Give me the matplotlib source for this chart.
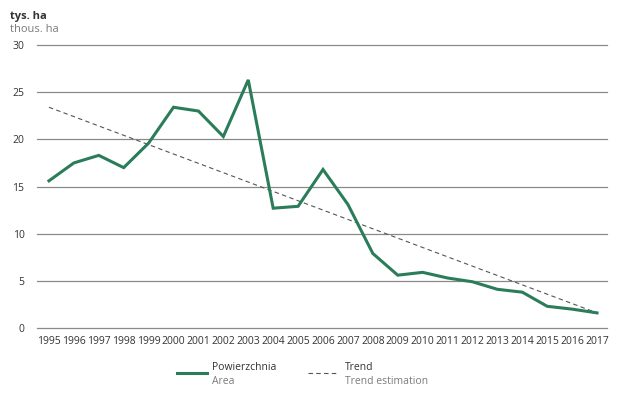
import matplotlib
matplotlib.use("Agg")
import matplotlib.pyplot as plt
from matplotlib.lines import Line2D

plt.rcParams['font.family'] = ['Open Sans', 'DejaVu Sans']

years = list(range(1995, 2018))
area = [15.6, 17.5, 18.3, 17.0, 19.6, 23.4, 23.0, 20.3, 26.3, 12.7, 12.9, 16.8,
        13.1, 7.9, 5.6, 5.9, 5.3, 4.9, 4.1, 3.8, 2.3, 2.0, 1.6]
trend_years = [1995, 2017]
trend_values = [23.4, 1.6]
yticks = [0, 5, 10, 15, 20, 25, 30]

green = '#2b7d5a'
grey = '#7a7a7a'
dark = '#333333'

fig = plt.figure(figsize=(6.34, 4.04), dpi=100)
ax = fig.add_axes([37 / 634, 1 - 328 / 404, 570 / 634, 283 / 404])

ax.plot(years, area, color=green, lw=2.2, solid_joinstyle='miter', zorder=3)
ax.plot(trend_years, trend_values, color='#555555', lw=0.8, ls=(0, (4, 3)), zorder=2)

ax.set_ylim(0, 30)
ax.set_xlim(1995 - 0.48, 2017 + 0.4)
ax.set_yticks(yticks)
ax.set_xticks(years)
ax.set_xticklabels([str(y) for y in years])
ax.yaxis.grid(True, color='#8a8a8a', lw=0.9)
for gl in ax.get_ygridlines():
    gl.set_clip_on(False)
ax.set_axisbelow(True)
for s in ax.spines.values():
    s.set_visible(False)
ax.tick_params(axis='both', length=0, labelsize=7.5, colors=dark, pad=6)
ax.tick_params(axis='y', pad=9)

fig.text(10 / 634, 1 - 16 / 404, 'tys. ha', fontsize=8, color=dark, fontweight='bold', va='center')
fig.text(10 / 634, 1 - 29 / 404, 'thous. ha', fontsize=8, color=grey, va='center')

# legend
fig.add_artist(Line2D([177 / 634, 207 / 634], [1 - 373 / 404] * 2, color=green, lw=2.2))
fig.text(212 / 634, 1 - 368 / 404, 'Powierzchnia', fontsize=7.5, color=dark, va='center')
fig.text(212 / 634, 1 - 381 / 404, 'Area', fontsize=7.5, color=grey, va='center')
fig.add_artist(Line2D([308 / 634, 338 / 634], [1 - 373 / 404] * 2, color='#555555', lw=0.8, ls=(0, (4, 3))))
fig.text(345 / 634, 1 - 368 / 404, 'Trend', fontsize=7.5, color=dark, va='center')
fig.text(345 / 634, 1 - 381 / 404, 'Trend estimation', fontsize=7.5, color=grey, va='center')

fig.savefig('out.png', dpi=100)
